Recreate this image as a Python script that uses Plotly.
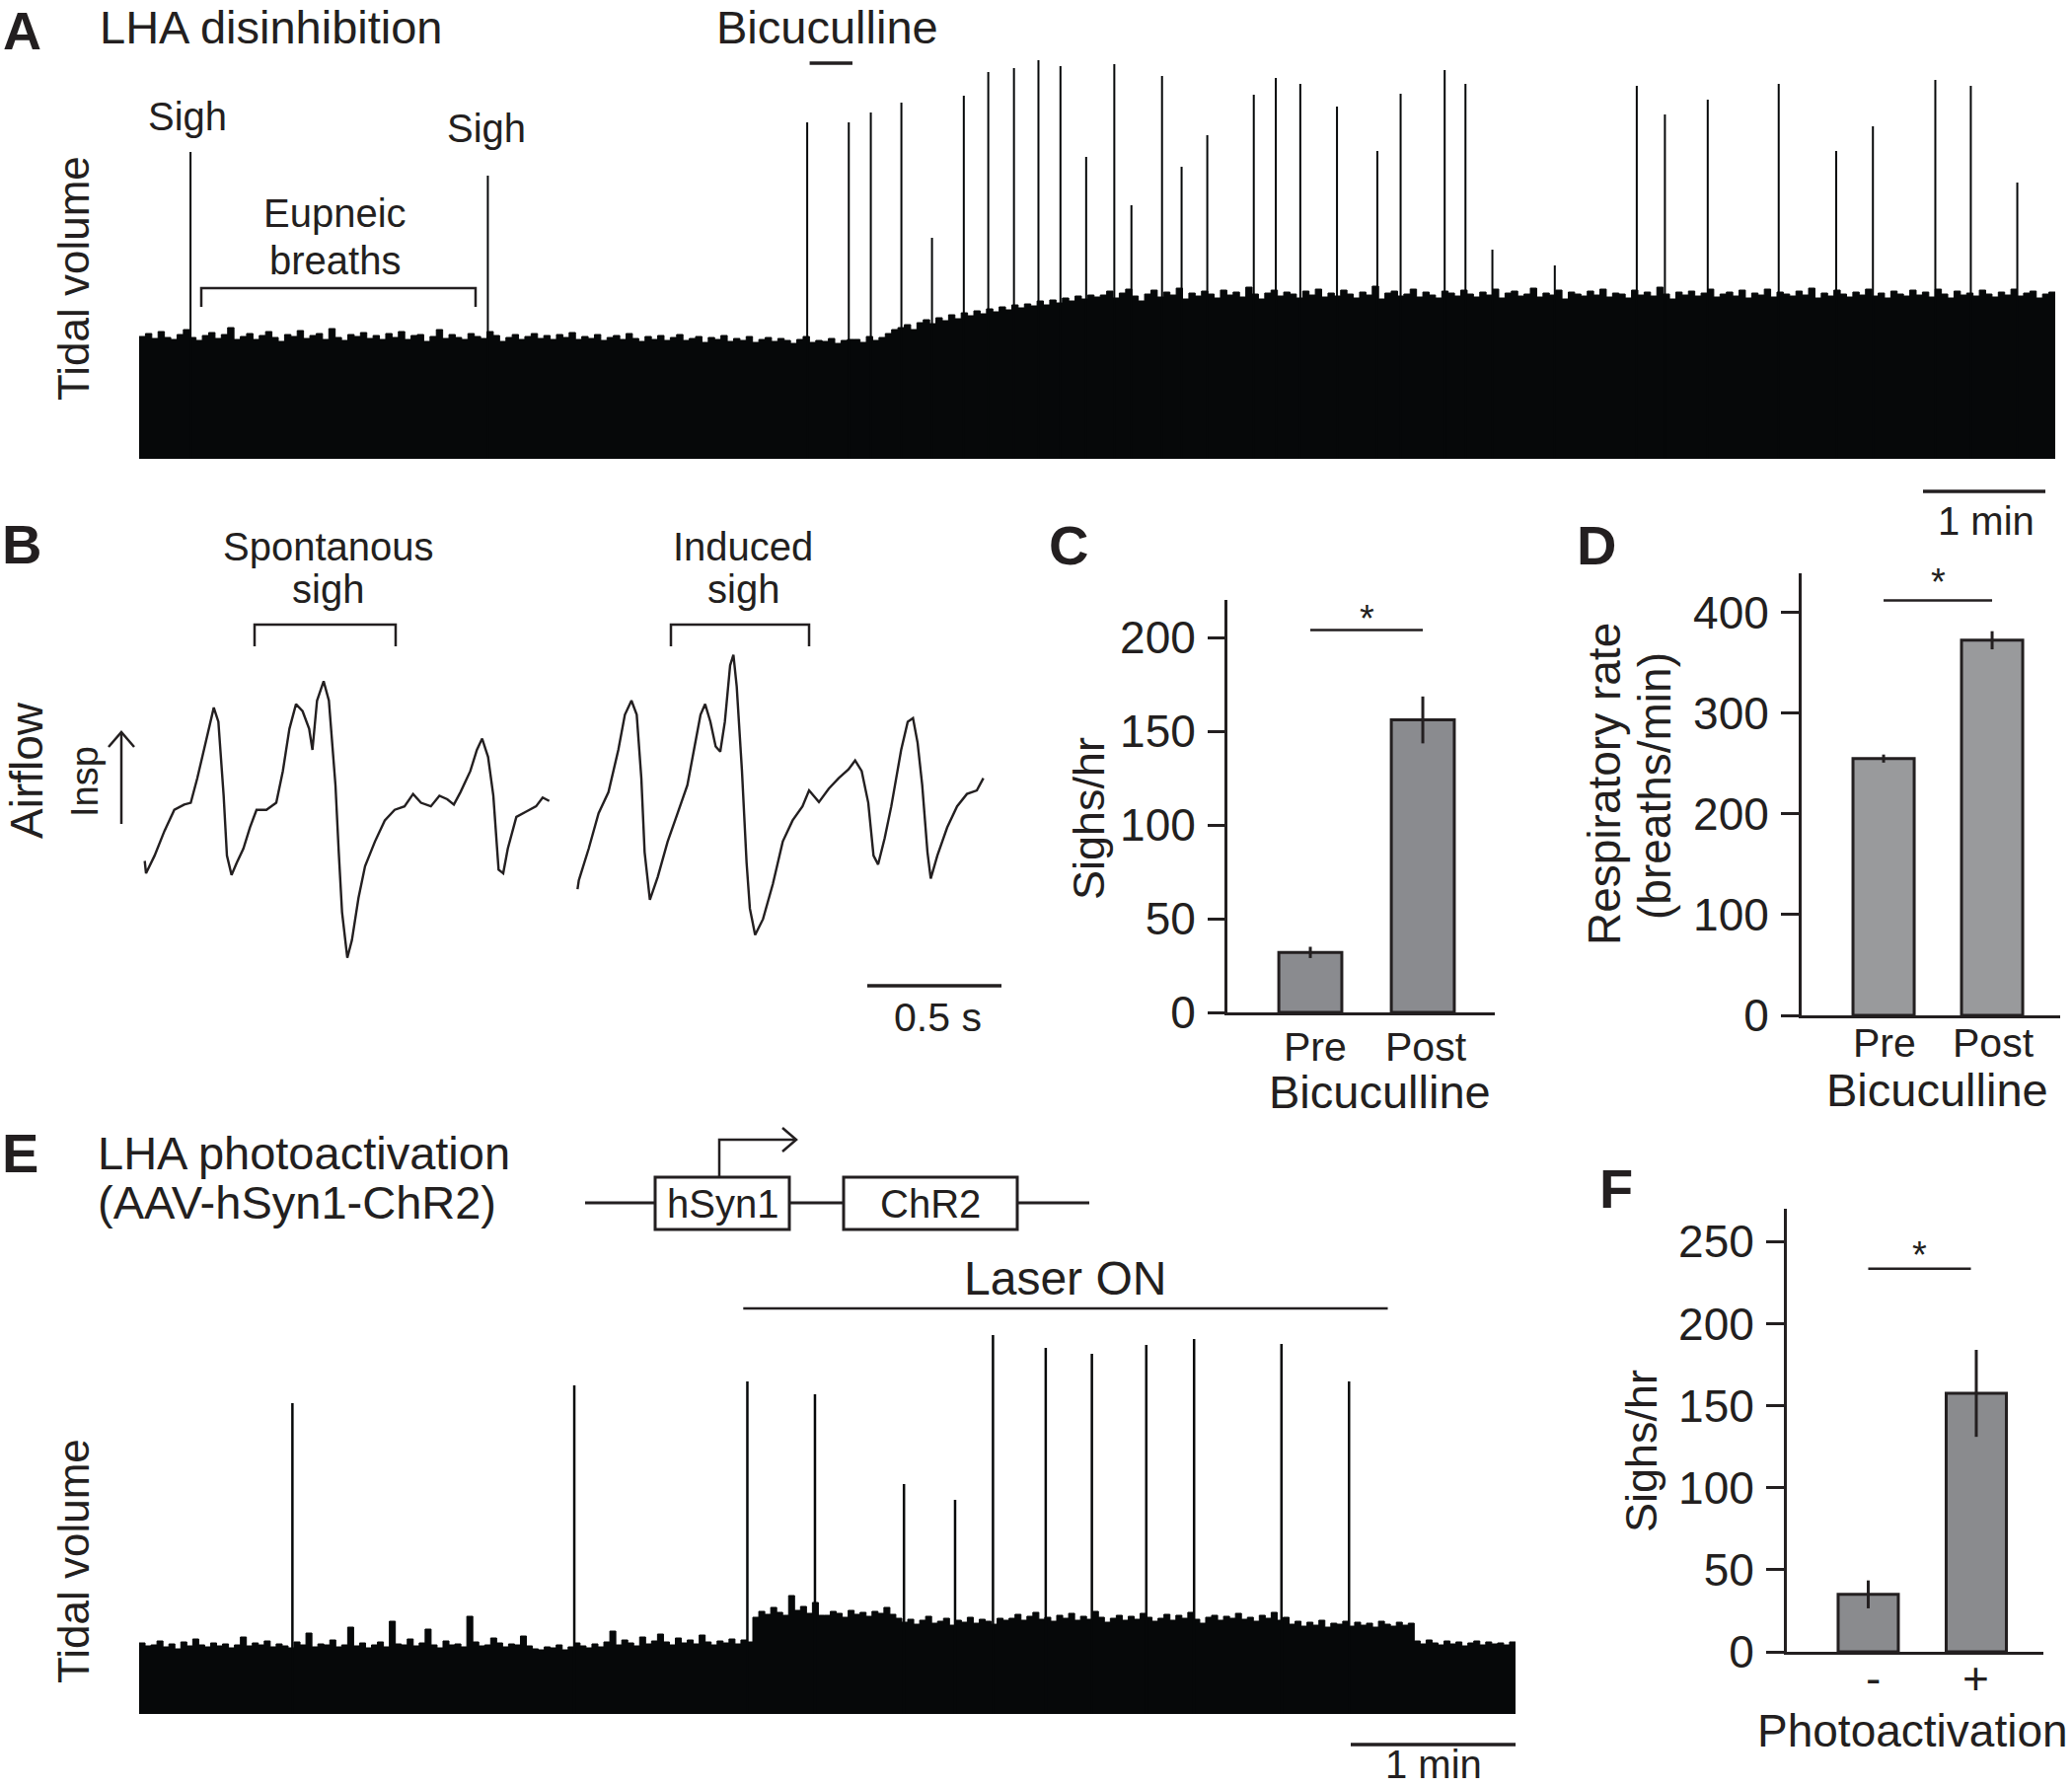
import numpy as np
import plotly.graph_objects as go

# ------------------------------------------------------------------ data
# Panel A: tidal volume (a.u.) of eupneic breaths, sampled evenly over the record
A_DURATION_MIN = 15.66
a_tidal_baseline = [
    124,127,122,129,123,121,126,131,123,120,125,128,122,126,133,121,124,127,121,125,
    129,123,119,126,124,130,122,125,127,121,132,123,120,126,124,128,122,125,121,127,
    123,129,121,125,126,119,124,131,122,126,123,121,127,124,122,129,125,119,123,126,
    121,124,127,122,125,121,126,123,128,121,124,122,126,120,123,125,121,127,122,119,
    124,121,125,120,123,126,120,122,124,118,123,121,125,119,122,120,124,118,121,123,
    119,122,120,117,121,124,118,120,119,122,117,120,121,
    121,118,124,120,123,127,131,
    133,136,131,138,141,137,143,140,146,142,148,145,150,147,152,149,154,151,156,153,
    157,155,160,156,161,158,163,160,165,162,166,164,
    166,170,163,168,172,165,160,167,171,164,169,166,173,162,168,165,170,167,163,171,
    166,169,164,174,167,162,168,171,165,169,167,163,170,166,172,164,168,165,171,167,
    163,169,166,175,162,168,170,165,167,172,164,169,166,163,170,168,165,171,167,164,
    169,166,172,163,168,170,165,167,173,164,168,166,171,162,169,167,165,170,166,172,
    164,168,167,163,171,166,169,165,174,167,162,169,166,170,165,168,172,164,167,169,
    165,171,163,168,166,172,164,169,167,165,170,166,173,163,168,165,171,167,164,169,
    166,172,165,168,163,170,167,165,171,166,169,164,172,167,163,170,166,168,165,171,
    167,164,169,166,172,165,168,170,163,167,169,166,
]
a_sigh_time_min = [0.42, 2.85, 5.46, 5.80, 5.98, 6.23, 6.48, 6.74, 6.94, 7.15,
                   7.35, 7.53, 7.74, 7.97, 8.11, 8.36, 8.52, 8.73, 9.11, 9.29,
                   9.49, 9.79, 10.12, 10.31, 10.67, 10.84, 11.06, 11.57, 12.24, 12.47,
                   12.82, 13.40, 13.87, 14.17, 14.68, 14.97, 15.35]
a_sigh_amp = [311, 287, 341, 341, 351, 361, 224, 368, 392, 396,
              404, 398, 306, 400, 257, 388, 296, 328, 369, 386,
              380, 357, 312, 370, 394, 380, 212, 196, 378, 349,
              364, 380, 312, 337, 384, 378, 280]
bicuculline_window_min = [5.48, 5.83]

# Panel B: airflow traces (sample index at FS Hz, flow in a.u.)
FS = 408
spont_sample = [220,222,235,250,265,280,290,300,310,320,325,332,340,345,352,360,370,380,390,405,
                420,430,440,450,460,470,475,482,492,500,510,515,520,528,535,545,555,570,585,600,
                615,628,640,655,668,680,690,700,715,725,733,742,750,758,765,772,785,800,815,825,835]
spont_flow = [28.5,25.0,30.0,37.0,43.0,44.5,45.0,52.0,60.0,68.0,72.0,68.0,47.0,30.0,24.5,28.0,32.0,38.0,43.0,43.0,
              45.0,54.0,66.0,73.0,71.0,66.0,60.0,74.0,79.5,74.0,50.0,31.0,14.0,1.0,6.0,18.0,27.0,34.0,40.0,43.0,
              44.0,47.5,45.0,44.0,47.0,46.0,44.5,48.0,54.0,60.0,63.2,58.0,47.0,26.0,25.0,32.0,41.0,42.5,44.0,46.5,45.5]
induced_sample = [878,880,895,910,925,940,950,960,968,975,980,988,1000,1015,1030,1045,1055,1065,1072,1080,
                  1088,1095,1102,1110,1115,1120,1128,1135,1140,1148,1160,1175,1190,1205,1220,1230,1245,1260,1275,1290,
                  1300,1310,1320,1328,1335,1345,1355,1370,1380,1388,1395,1402,1410,1415,1425,1440,1455,1470,1485,1495]
induced_flow = [20.5,23.0,32.0,42.0,48.0,60.0,70.0,74.0,70.0,52.0,31.0,17.5,24.0,34.0,42.0,50.0,60.0,70.0,73.0,68.0,
                61.0,59.5,68.0,84.0,87.0,78.0,54.0,28.0,15.0,7.5,12.0,22.0,34.0,40.0,44.0,48.5,45.2,49.0,52.0,54.5,
                57.0,54.0,45.0,30.0,27.5,35.0,44.0,60.0,68.0,69.0,62.0,50.0,31.0,23.5,30.0,38.0,44.0,47.5,48.5,52.0]

# Panels C, D
bic_groups = ["Pre", "Post"]
sighs_per_hr = [32, 156]
sighs_per_hr_sem = [3, 12.5]
resp_rate = [255, 372.5]
resp_rate_sem = [4, 9]

# Panel E
E_DURATION_MIN = 8.35
e_tidal_baseline = [
    72,69,70,74,68,71,66,73,69,76,70,68,72,69,71,67,70,78,69,72,
    70,74,68,71,69,67,73,70,82,68,71,70,75,68,70,88,69,72,67,70,
    73,68,94,71,70,76,69,72,86,70,67,74,70,71,68,99,73,69,70,77,
    72,68,71,70,79,69,66,65,68,67,70,65,68,72,69,67,71,68,73,84,
    70,75,72,69,78,71,74,81,73,70,77,72,75,71,80,73,70,74,72,76,
    71,75,73,
    98,104,101,108,103,100,120,105,109,102,113,100,
    100,104,102,98,105,101,103,99,104,102,108,101,97,
    93,96,91,95,99,92,94,97,90,95,93,98,92,96,94,91,97,95,
    97,101,95,99,103,96,98,94,100,97,102,95,99,96,104,98,93,97,100,95,
    99,96,102,98,94,97,101,95,100,97,103,96,92,98,100,95,99,97,102,96,
    98,94,100,97,103,95,98,
    91,94,89,93,90,95,88,92,91,94,89,93,90,92,88,94,91,89,93,90,92,
    74,71,75,72,70,74,71,73,69,72,74,70,73,71,72,70,73,71,
]
e_sigh_time_min = [0.93, 2.64, 3.69, 4.10, 4.64, 4.95, 5.18, 5.50, 5.78, 6.11, 6.40, 6.93, 7.34]
e_sigh_amp = [315, 333, 337, 324, 233, 217, 384, 371, 365, 374, 380, 375, 337]
laser_window_min = [3.665, 7.575]

# Panel F
photo_groups = ["-", "+"]
photo_sighs_per_hr = [35, 157.5]
photo_sighs_sem = [8.5, 26.5]

# ------------------------------------------------------------------ layout helpers
W = 2100
H_DESIGN = 1810          # layout designed on a 2100x1810 grid
H = 1836                 # figure height (page is shown slightly compressed vertically)
FONT = "Liberation Sans, Arial, Helvetica, sans-serif"
INK = "#231f20"
TRACE_BLACK = "#060809"


def X(px):
    return px / W


def Y(py):
    return 1 - py / H_DESIGN


ann, shp = [], []


def text(s, x, y, size, angle=0, xanchor="center", xref="paper", xval=None, top=False):
    ann.append(dict(text=s, x=(X(x) if xval is None else xval), y=(1 if top else Y(y)), xref=xref,
                    yref="paper", showarrow=False, xanchor=xanchor, yanchor=("top" if top else "middle"),
                    textangle=angle, borderpad=0,
                    font=dict(family=FONT, size=size, color=INK)))


def seg(x0, y0, x1, y1, w=3):
    shp.append(dict(type="line", xref="paper", yref="paper", x0=X(x0), y0=Y(y0), x1=X(x1), y1=Y(y1),
                    line=dict(color=INK, width=w)))


def poly(pts, w=3):
    d = "M " + " L ".join(f"{X(a):.5f},{Y(b):.5f}" for a, b in pts)
    shp.append(dict(type="path", xref="paper", yref="paper", path=d, line=dict(color=INK, width=w)))


def box(x0, y0, x1, y1, w=3):
    shp.append(dict(type="rect", xref="paper", yref="paper", x0=X(x0), y0=Y(y0), x1=X(x1), y1=Y(y1),
                    line=dict(color=INK, width=w), fillcolor="white"))


def spikes(ts, amps):
    xs, ys = [], []
    for t, a in zip(ts, amps):
        xs += [t, t, None]
        ys += [0, a, None]
    return xs, ys


# pixel frames of the panels
A_X0, A_X1, A_YB, A_YT = 141, 2083, 465, 40
E_X0, E_X1, E_YB, E_YT = 141, 1536, 1737, 1337
B_X0, B_X1, B_YB, B_YT = 0, 1050, 1000, 640
a_px_per_min = (A_X1 - A_X0) / A_DURATION_MIN
e_px_per_min = (E_X1 - E_X0) / E_DURATION_MIN
b_px_per_sample = (B_X1 - B_X0) / 1575

fig = go.Figure()

# ---- A trace
a_t = np.linspace(0, A_DURATION_MIN, len(a_tidal_baseline))
fig.add_trace(go.Scatter(x=a_t, y=a_tidal_baseline, mode="lines", fill="tozeroy", line_shape="hv",
                         fillcolor=TRACE_BLACK, line=dict(color=TRACE_BLACK, width=1),
                         xaxis="x", yaxis="y", hoverinfo="skip"))
sx, sy = spikes(a_sigh_time_min, a_sigh_amp)
fig.add_trace(go.Scatter(x=sx, y=sy, mode="lines", line=dict(color=TRACE_BLACK, width=2),
                         xaxis="x", yaxis="y", hoverinfo="skip"))

# ---- B traces
fig.add_trace(go.Scatter(x=spont_sample, y=spont_flow, mode="lines", line=dict(color=INK, width=2.4),
                         xaxis="x2", yaxis="y2"))
fig.add_trace(go.Scatter(x=induced_sample, y=induced_flow, mode="lines", line=dict(color=INK, width=2.4),
                         xaxis="x2", yaxis="y2"))


# ---- C, D, F bars
def bar(xs, ys, err, color, ax, ay, width):
    fig.add_trace(go.Bar(x=xs, y=ys, width=width,
                         marker=dict(color=color, line=dict(color=INK, width=3)),
                         error_y=dict(type="data", array=err, visible=True, color=INK, thickness=3, width=0),
                         xaxis=ax, yaxis=ay))


bar(bic_groups, sighs_per_hr, sighs_per_hr_sem, "#8a8b8f", "x3", "y3", 0.56)
bar(bic_groups, resp_rate, resp_rate_sem, "#999a9c", "x4", "y4", 0.564)
bar(photo_groups, photo_sighs_per_hr, photo_sighs_sem, "#8a8b8e", "x6", "y6", 0.557)

# ---- E trace
e_t = np.linspace(0, E_DURATION_MIN, len(e_tidal_baseline))
fig.add_trace(go.Scatter(x=e_t, y=e_tidal_baseline, mode="lines", fill="tozeroy", line_shape="hv",
                         fillcolor=TRACE_BLACK, line=dict(color=TRACE_BLACK, width=1),
                         xaxis="x5", yaxis="y5", hoverinfo="skip"))
sx, sy = spikes(e_sigh_time_min, e_sigh_amp)
fig.add_trace(go.Scatter(x=sx, y=sy, mode="lines", line=dict(color=TRACE_BLACK, width=2.5),
                         xaxis="x5", yaxis="y5", hoverinfo="skip"))

hidden = dict(visible=False, showgrid=False, zeroline=False)


def bar_x(x0, x1, rng, anchor):
    return dict(domain=[X(x0), X(x1)], type="category", range=rng, showline=True, linecolor=INK,
                linewidth=3, ticks="", showticklabels=False, showgrid=False, zeroline=False, anchor=anchor)


def bar_y(yb, yt, rng, tickvals, ticklen, anchor):
    return dict(domain=[Y(yb), Y(yt)], range=rng, tickvals=tickvals, ticks="outside", ticklen=ticklen,
                tickwidth=3, tickcolor=INK, showline=True, linecolor=INK, linewidth=3, showgrid=False,
                zeroline=False, tickfont=dict(family=FONT, size=46, color=INK), ticklabelstandoff=3,
                anchor=anchor)


fig.update_layout(
    width=W, height=H, margin=dict(l=0, r=0, t=0, b=0), autosize=False,
    paper_bgcolor="white", plot_bgcolor="rgba(0,0,0,0)", showlegend=False,
    xaxis=dict(domain=[X(A_X0), X(A_X1)], range=[0, A_DURATION_MIN], anchor="y", **hidden),
    yaxis=dict(domain=[Y(A_YB), Y(A_YT)], range=[0, A_YB - A_YT], anchor="x", **hidden),
    xaxis2=dict(domain=[X(B_X0), X(B_X1)], range=[0, 1575], anchor="y2", **hidden),
    yaxis2=dict(domain=[Y(B_YB), Y(B_YT)], range=[-7.2, 93.6], anchor="x2", **hidden),
    xaxis3=bar_x(1244, 1515, [-0.737, 1.64], "y3"),
    yaxis3=bar_y(1026, 608, [0, 220], [0, 50, 100, 150, 200], 17, "x3"),
    xaxis4=bar_x(1826, 2088, [-0.755, 1.627], "y4"),
    yaxis4=bar_y(1029, 581, [0, 439], [0, 100, 200, 300, 400], 18, "x4"),
    xaxis5=dict(domain=[X(E_X0), X(E_X1)], range=[0, E_DURATION_MIN], anchor="y5", **hidden),
    yaxis5=dict(domain=[Y(E_YB), Y(E_YT)], range=[0, E_YB - E_YT], anchor="x5", **hidden),
    xaxis6=bar_x(1811, 2071, [-0.753, 1.621], "y6"),
    yaxis6=bar_y(1674, 1225, [0, 270], [0, 50, 100, 150, 200, 250], 18, "x6"),
)

# ------------------------------------------------------------------ panel A decorations
text("<b>A</b>", 22, 0, 54, top=True)
text("LHA disinhibition", 100, 0, 47, xanchor="left", top=True)
text("Bicuculline", 838, 0, 47, top=True)
bx0 = A_X0 + bicuculline_window_min[0] * a_px_per_min
bx1 = A_X0 + bicuculline_window_min[1] * a_px_per_min
seg(bx0, 64, bx1, 64, 3.5)
text("Sigh", 190, 118, 40)
text("Sigh", 493, 130, 40)
text("Eupneic", 339, 216, 40)
text("breaths", 339, 264, 40)
poly([(204, 311), (204, 292), (482, 292), (482, 311)], 2.5)
text("Tidal volume", 74, 282, 44, angle=-90)
seg(1949, 498, 1949 + 1 * a_px_per_min, 498, 3.5)
text("1 min", 2013, 528, 40)

# ------------------------------------------------------------------ panel B decorations
text("<b>B</b>", 22, 551, 56)
text("Spontanous", 333, 554, 40)
text("sigh", 333, 597, 40)
poly([(258, 655), (258, 633), (401, 633), (401, 655)], 2.5)
text("Induced", 753, 554, 40)
text("sigh", 753, 597, 40)
poly([(680, 655), (680, 633), (820, 633), (820, 655)], 2.5)
text("Airflow", 27, 781, 46, angle=-90)
text("Insp", 86, 792, 38, angle=-90)
seg(123, 835, 123, 743, 2.5)
poly([(110, 757), (123, 742), (136, 757)], 2.5)
sb0 = 879
seg(sb0, 999, sb0 + 0.5 * FS * b_px_per_sample, 999, 3.5)
text("0.5 s", 950, 1031, 41)

# ------------------------------------------------------------------ panel C decorations
text("<b>C</b>", 1083, 552, 56)
text("Sighs/hr", 1103, 830, 45, angle=-90)
shp.append(dict(type="line", xref="x3", yref="y3", x0=0, x1=1, y0=204, y1=204, line=dict(color=INK, width=2.5)))
text("*", 1384, 627, 38, xref="x3", xval=0.5)
for g, px in zip(bic_groups, [1333, 1445]):
    text(g, px, 1061, 41)
text("Bicuculline", 1398, 1106, 47)

# ------------------------------------------------------------------ panel D decorations
text("<b>D</b>", 1618, 552, 56)
text("Respiratory rate", 1626, 795, 46, angle=-90)
text("(breaths/min)", 1677, 797, 46, angle=-90)
shp.append(dict(type="line", xref="x4", yref="y4", x0=0, x1=1, y0=412, y1=412, line=dict(color=INK, width=2.5)))
text("*", 1965, 590, 38, xref="x4", xval=0.5)
for g, px in zip(bic_groups, [1910, 2020]):
    text(g, px, 1057, 41)
text("Bicuculline", 1963, 1104, 47)

# ------------------------------------------------------------------ panel E decorations
text("<b>E</b>", 20, 1168, 56)
text("LHA photoactivation", 98, 1168, 47, xanchor="left")
text("(AAV-hSyn1-ChR2)", 98, 1218, 47, xanchor="left")
seg(593, 1219, 664, 1219, 3)
seg(800, 1219, 855, 1219, 3)
seg(1031, 1219, 1104, 1219, 3)
box(664, 1193, 800, 1246, 3)
box(855, 1193, 1031, 1246, 3)
text("hSyn1", 732, 1220, 40)
text("ChR2", 943, 1220, 40)
poly([(729, 1193), (729, 1155), (806, 1155)], 2.5)
poly([(793, 1143), (807, 1155), (793, 1167)], 2.5)
lx0 = E_X0 + laser_window_min[0] * e_px_per_min
lx1 = E_X0 + laser_window_min[1] * e_px_per_min
text("Laser ON", (lx0 + lx1) / 2, 1295, 48)
seg(lx0, 1326, lx1, 1326, 2.5)
text("Tidal volume", 74, 1582, 44, angle=-90)
seg(1369, 1768, 1369 + 1 * e_px_per_min, 1768, 3.5)
text("1 min", 1453, 1788, 40)

# ------------------------------------------------------------------ panel F decorations
text("<b>F</b>", 1638, 1204, 56)
text("Sighs/hr", 1663, 1471, 45, angle=-90)
shp.append(dict(type="line", xref="x6", yref="y6", x0=0, x1=0.95, y0=233.5, y1=233.5, line=dict(color=INK, width=2.5)))
text("*", 1938, 1272, 38, xref="x6", xval=0.475)
for g, px in zip(photo_groups, [1898, 2002]):
    text(g, px, 1701, 46)
text("Photoactivation", 1938, 1754, 46)

fig.update_layout(annotations=ann, shapes=shp)
fig.write_html("out.html", config={"displayModeBar": False},
               post_script="document.body.style.margin='0';document.body.style.overflow='hidden';")
